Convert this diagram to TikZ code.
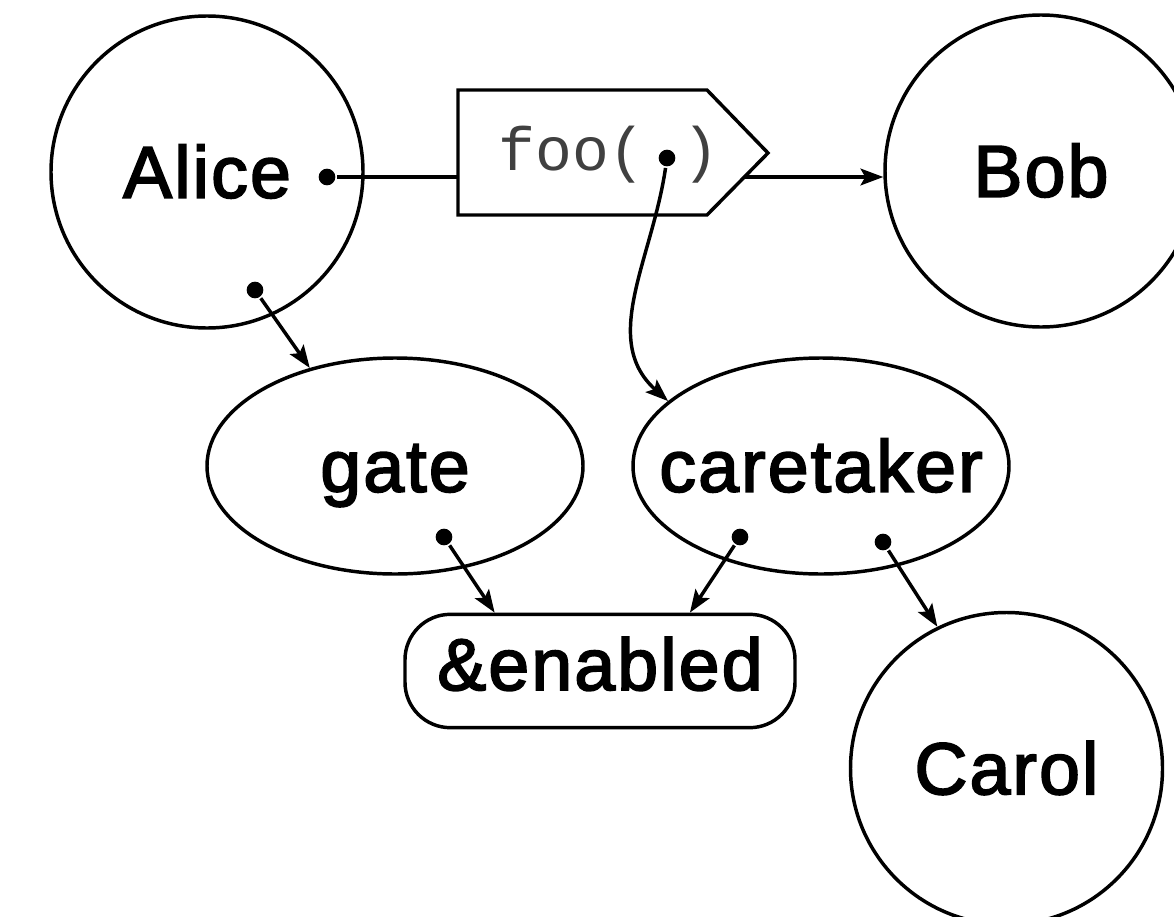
\documentclass[tikz,border=0pt]{standalone}
\usepackage{fontspec}
\setmainfont[FakeBold=2.5,LetterSpace=3]{Liberation Sans}
\setmonofont{Liberation Mono}
\usetikzlibrary{shapes.geometric,arrows.meta}
\begin{document}
\begin{tikzpicture}[x=0.75pt,y=-0.75pt,
  line width=2.6pt,
  lbl/.style={font=\fontsize{55}{60}\selectfont, text height=38.5pt, text depth=0pt, inner sep=0pt},
  actor/.style={lbl, circle, draw, minimum size=234pt},
  obj/.style={lbl, ellipse, draw, minimum width=282pt, minimum height=162pt},
  refbox/.style={lbl, rectangle, rounded corners=34pt, draw, minimum width=292.5pt, minimum height=85pt, text height=28.6pt},
  dotpt/.style={circle, fill, inner sep=0pt, minimum size=12.5pt},
  arr/.style={-{Stealth[length=17pt,width=12.5pt,inset=3.5pt]}},
  msgtext/.style={font=\fontsize{46}{50}\selectfont\ttfamily, text=black!75, inner sep=0pt, anchor=base},
]
\useasboundingbox (0,0) rectangle (1174,917);
\clip (0,0) rectangle (1174,917);

% actors
\node[actor] (Alice) at (207,172) {\makebox[0pt]{Alice}};
\node[actor] (Bob) at (1041,171) {\makebox[0pt]{Bob}};
\node[actor] (Carol) at (1006.5,768.5) {\makebox[0pt]{Carol}};

% objects
\node[obj] (gate) at (395,466) {\makebox[0pt]{gate}};
\node[obj] (caretaker) at (821,466) {\makebox[0pt]{caretaker}};
\node[refbox] (enabled) at (600,671) {\makebox[0pt]{\&enabled}};

% message box
\coordinate (mTL) at (458,90);
\coordinate (mTR) at (707,90);
\coordinate (mP) at (768,153);
\coordinate (mBR) at (707,215);
\coordinate (mBL) at (458,215);
\draw (mTL) -- (mTR) -- (mP) -- (mBR) -- (mBL) -- cycle;
\node[msgtext] (msg) at (609,170) {foo( )};
\coordinate (mL) at (458,177);
\coordinate (mR) at (744,177);

% dots
\node[dotpt] (ad1) at (327,177) {};
\node[dotpt] (ad2) at (255,290) {};
\node[dotpt] (fd) at (667,158) {};
\node[dotpt] (gd) at (444,537) {};
\node[dotpt] (cd1) at (740,537) {};
\node[dotpt] (cd2) at (883,542) {};

% connectors
\draw (ad1) -- (mL);
\draw[arr] (mR) -- (mR -| Bob.west);
\draw[arr] (ad2) -- (gate.131);
\draw[arr] (fd) .. controls (652,260) and (600,340) .. (caretaker.157);
\draw[arr] (gd) -- (enabled.151.5);
\draw[arr] (cd1) -- (enabled.33);
\draw[arr] (cd2) -- (Carol.116.5);
\end{tikzpicture}
\end{document}
